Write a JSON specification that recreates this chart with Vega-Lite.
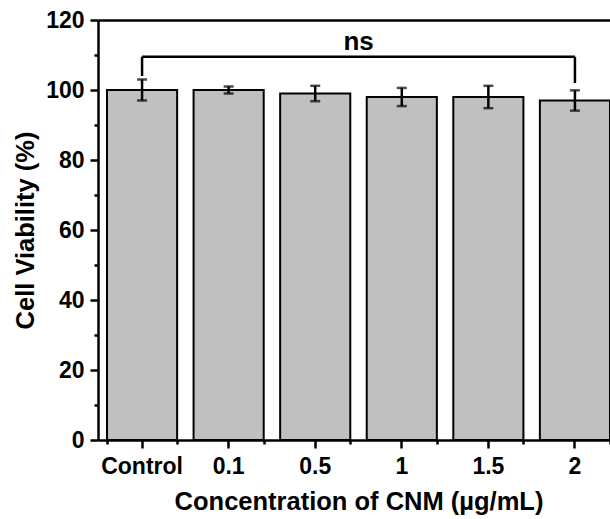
{
  "$schema": "https://vega.github.io/schema/vega-lite/v6.json",
  "width": 512,
  "height": 420,
  "autosize": "none",
  "padding": {"left": 98, "top": 20, "right": 0, "bottom": 79},
  "background": "white",
  "config": {
    "view": {"stroke": null},
    "font": "Liberation Sans",
    "axis": {
      "domainColor": "black", "domainWidth": 2.5, "tickColor": "black", "tickWidth": 2.5,
      "labelColor": "black", "titleColor": "black", "labelFont": "Liberation Sans", "titleFont": "Liberation Sans",
      "labelFontWeight": "bold", "titleFontWeight": "bold", "labelFontSize": 23, "titleFontSize": 25.5, "grid": false
    }
  },
  "datasets": {
    "cells": [
      {"group": "Control", "viability": 100, "sd": 3.0},
      {"group": "0.1", "viability": 100, "sd": 1.0},
      {"group": "0.5", "viability": 99, "sd": 2.2},
      {"group": "1", "viability": 98, "sd": 2.6},
      {"group": "1.5", "viability": 98, "sd": 3.2},
      {"group": "2", "viability": 97, "sd": 2.9}
    ],
    "bracket": [
      {"from": "Control", "to": "2", "y": 109.5, "y2": 109.5},
      {"from": "Control", "to": "Control", "y": 104, "y2": 109.5},
      {"from": "2", "to": "2", "y": 102, "y2": 109.5}
    ],
    "label": [{"group": "0.5", "text": "ns", "y": 111.3}]
  },
  "resolve": {"axis": {"x": "independent", "y": "independent"}},
  "layer": [
    {
      "data": {"name": "cells"},
      "mark": {"type": "bar", "fill": "#c0c0c0", "stroke": "black", "strokeWidth": 2},
      "encoding": {
        "x": {"field": "group", "type": "nominal", "sort": null,
          "scale": {"domain": ["Control", "0.1", "0.5", "1", "1.5", "2"], "range": [0, 521], "paddingInner": 0.19, "paddingOuter": 0.104},
          "axis": {"orient": "bottom", "title": "Concentration of CNM (µg/mL)", "labelAngle": 0, "tickSize": 8, "labelPadding": 7, "titlePadding": 11}},
        "y": {"field": "viability", "type": "quantitative",
          "scale": {"domain": [0, 120], "nice": false},
          "axis": {"orient": "left", "title": "Cell Viability (%)", "values": [0, 20, 40, 60, 80, 100, 120], "tickSize": 8, "labelPadding": 6, "titlePadding": 7}}
      }
    },
    {
      "data": {"name": "cells"},
      "transform": [{"calculate": "datum.viability - datum.sd", "as": "lo"}, {"calculate": "datum.viability + datum.sd", "as": "hi"}],
      "layer": [
        {"mark": {"type": "rule", "color": "black", "strokeWidth": 2.5},
          "encoding": {"x": {"field": "group", "type": "nominal", "sort": null, "axis": null}, "y": {"field": "lo", "type": "quantitative", "axis": null}, "y2": {"field": "hi"}}},
        {"mark": {"type": "tick", "color": "black", "size": 10, "thickness": 2.5, "orient": "horizontal"},
          "encoding": {"x": {"field": "group", "type": "nominal", "sort": null, "axis": null}, "y": {"field": "lo", "type": "quantitative", "axis": null}}},
        {"mark": {"type": "tick", "color": "black", "size": 10, "thickness": 2.5, "orient": "horizontal"},
          "encoding": {"x": {"field": "group", "type": "nominal", "sort": null, "axis": null}, "y": {"field": "hi", "type": "quantitative", "axis": null}}}
      ]
    },
    {
      "data": {"name": "bracket"},
      "mark": {"type": "rule", "color": "black", "strokeWidth": 2.5},
      "encoding": {
        "x": {"field": "from", "type": "nominal", "sort": null, "axis": null},
        "x2": {"field": "to"},
        "y": {"field": "y", "type": "quantitative", "axis": null},
        "y2": {"field": "y2"}
      }
    },
    {
      "data": {"name": "label"},
      "mark": {"type": "text", "font": "Liberation Sans", "fontWeight": "bold", "fontSize": 26, "align": "center", "baseline": "alphabetic", "color": "black"},
      "encoding": {
        "x": {"field": "group", "type": "nominal", "sort": null, "bandPosition": 1.118, "axis": null},
        "y": {"field": "y", "type": "quantitative", "axis": null},
        "text": {"field": "text"}
      }
    },
    {
      "data": {"name": "cells"},
      "mark": {"type": "point", "opacity": 0},
      "encoding": {
        "x": {"field": "group", "type": "nominal", "sort": null,
          "axis": {"orient": "bottom", "title": null, "labels": false, "domain": false, "tickBand": "extent", "tickSize": 4}},
        "y": {"field": "viability", "type": "quantitative",
          "axis": {"orient": "left", "title": null, "labels": false, "domain": false, "values": [10, 30, 50, 70, 90, 110], "tickSize": 4}}
      }
    },
    {
      "data": {"name": "cells"},
      "mark": {"type": "point", "opacity": 0},
      "encoding": {
        "x": {"field": "group", "type": "nominal", "sort": null,
          "axis": {"orient": "top", "title": null, "labels": false, "ticks": false, "domain": true}}
      }
    }
  ]
}
